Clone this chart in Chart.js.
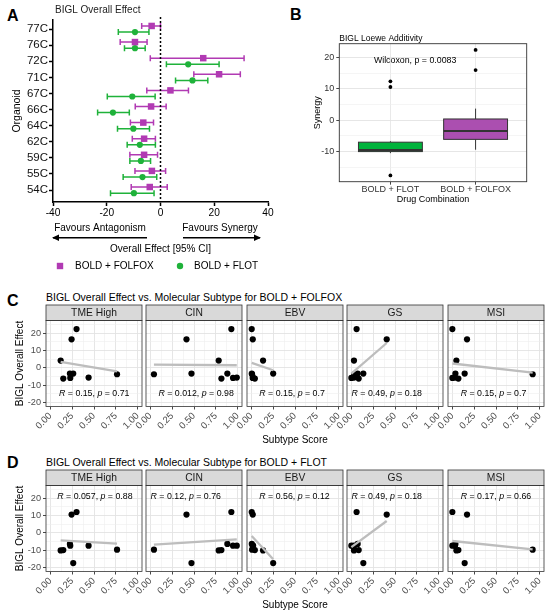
<!DOCTYPE html>
<html><head><meta charset="utf-8">
<script src="https://cdn.jsdelivr.net/npm/chart.js@4.4.1/dist/chart.umd.min.js"></script>
<style>
body{margin:0;background:#fff;}
#wrap{position:relative;width:550px;height:616px;overflow:hidden;font-family:"Liberation Sans",Arial,sans-serif;background:#fff;}
canvas{position:absolute;}
.lbl{position:absolute;font-weight:bold;font-size:16px;color:#000;line-height:1;}
.ttl{position:absolute;font-size:10.5px;color:#000;white-space:nowrap;line-height:1;}
</style></head>
<body><div id="wrap">
<div class="lbl" style="left:7px;top:8px">A</div>
<div class="lbl" style="left:290px;top:7px">B</div>
<div class="lbl" style="left:7px;top:293px">C</div>
<div class="lbl" style="left:7px;top:455px">D</div>
<div class="ttl" style="left:46px;top:292px">BIGL Overall Effect vs. Molecular Subtype for BOLD + FOLFOX</div>
<div class="ttl" style="left:46px;top:457px">BIGL Overall Effect vs. Molecular Subtype for BOLD + FLOT</div>
<canvas id="cA" width="280" height="280" style="left:0;top:0;width:280px;height:280px"></canvas>
<canvas id="cB" width="275" height="205" style="left:275px;top:0;width:275px;height:205px"></canvas>
</div>
<script>
// ---------- Panel A data ----------
const organoids = ["77C","76C","72C","71C","67C","66C","64C","62C","59C","55C","54C"];
const folfoxMean = [-3.3,-9.5,15.9,21.8,3.7,-3.5,-6.4,-6.1,-6.1,-3.2,-4.0];
const folfoxLow  = [-7.0,-15.0,-3.8,12.4,-5.1,-9.4,-11.2,-10.5,-11.4,-9.5,-10.9];
const folfoxHigh = [0.0,-5.0,31.1,29.7,10.4,2.1,-2.6,-1.9,-1.1,1.9,2.5];
const flotMean = [-9.5,-9.5,10.3,11.9,-10.5,-17.7,-10.1,-7.7,-7.3,-6.7,-9.9];
const flotLow  = [-15.7,-13.4,2.2,5.6,-19.8,-23.4,-16.0,-12.4,-11.4,-13.9,-18.6];
const flotHigh = [-4.3,-5.7,21.8,17.6,-2.0,-11.6,-4.1,-1.9,-3.7,-1.4,-2.4];
const effectTicks = [-40,-20,0,20,40];

// ---------- Panel B data ----------
const drugCombos = ["BOLD + FLOT","BOLD + FOLFOX"];
const boxLowWhisker = [-10.5,-9.4];
const boxQ1 = [-10.0,-6.1];
const boxMedian = [-9.5,-3.4];
const boxQ3 = [-7.0,0.4];
const boxHighWhisker = [-6.7,3.7];
const outliersFlot = [12.4,10.6,-17.6];
const outliersFolfox = [22.4,16.0];
const synergyTicks = [-10,0,10,20];
const synergyMinor = [-15,-5,5,15];

// ---------- Panels C/D data ----------
const subtypes = ["TME High","CIN","EBV","GS","MSI"];
const folfoxEffect = [4.2,-6.2,-3.3,-5.8,-3.3,16.4,22.3,-5.6,-3.7];
const flotEffect   = [-10.1,-9.9,-6.4,-7.4,-17.4,10.5,12.0,-7.4,-9.7];
const scoreTME = [0.118,0.148,0.224,0.228,0.262,0.243,0.300,0.438,0.764];
const scoreCIN = [0.783,0.814,0.882,0.947,0.471,0.414,0.928,0.990,0.041];
const scoreEBV = [0.134,0.040,0.005,0.015,0.250,0.016,0.004,0.020,0.008];
const scoreGS  = [0.030,0.084,0.072,0.000,0.137,0.405,0.060,0.030,0.034];
const scoreMSI = [0.046,0.069,0.035,0.000,0.141,0.168,0.000,0.030,0.920];
const fitFolfoxStart = [3.5,1.9,2.9,-3.3,2.5];
const fitFolfoxEnd   = [-2.0,1.5,-1.4,14.3,-2.7];
const fitFlotStart = [-4.3,-6.8,-1.8,-8.2,-4.7];
const fitFlotEnd   = [-6.2,-3.8,-15.2,6.8,-9.5];
const rFolfox = ["0.15","0.012","0.15","0.49","0.15"];
const pFolfox = ["0.71","0.98","0.7","0.18","0.7"];
const rFlot = ["0.057","0.12","0.56","0.49","0.17"];
const pFlot = ["0.88","0.76","0.12","0.18","0.66"];
const scoreTicks = [0,0.25,0.5,0.75,1];
const scoreMinor = [0.125,0.375,0.625,0.875];
const facetTicks = [-20,-10,0,10,20];
const facetMinor = [-15,-5,5,15,25];

Chart.defaults.font.family = '"Liberation Sans", Arial, sans-serif';
Chart.defaults.animation = false;

const FOLFOX_COL = '#B13AB3';
const FLOT_COL = '#1FB23A';

// ================= Panel A =================
const forestPlugin = {
  id: 'forest',
  beforeDatasetsDraw(chart) {
    const {ctx, chartArea: a, scales: {x, y}} = chart;
    ctx.save();
    chart.data.datasets.forEach(ds => {
      ctx.strokeStyle = ds.borderColor; ctx.lineWidth = 1.5;
      ds.data.forEach(p => {
        const yy = y.getPixelForValue(p.y), xl = x.getPixelForValue(p.lo), xh = x.getPixelForValue(p.hi);
        ctx.beginPath();
        ctx.moveTo(xl, yy); ctx.lineTo(xh, yy);
        ctx.moveTo(xl, yy - 3); ctx.lineTo(xl, yy + 3);
        ctx.moveTo(xh, yy - 3); ctx.lineTo(xh, yy + 3);
        ctx.stroke();
      });
    });
    const x0 = x.getPixelForValue(0);
    ctx.setLineDash([2, 2]); ctx.lineWidth = 1.5; ctx.strokeStyle = '#000';
    ctx.beginPath(); ctx.moveTo(x0, a.top - 3); ctx.lineTo(x0, a.bottom); ctx.stroke();
    ctx.restore();
  },
  afterDraw(chart) {
    const {ctx, chartArea: a, scales: {x}} = chart;
    const b = a.bottom;
    ctx.save();
    ctx.fillStyle = '#000'; ctx.strokeStyle = '#000';
    ctx.font = '10px "Liberation Sans", Arial';
    ctx.textAlign = 'center'; ctx.textBaseline = 'middle';
    ctx.fillText('Favours Antagonism', 100, b + 26);
    ctx.fillText('Favours Synergy', 220, b + 26);
    ctx.fillText('Overall Effect [95% CI]', x.getPixelForValue(0), b + 47.5);
    const arrow = (x1, x2, yy) => {
      ctx.lineWidth = 1.5;
      ctx.beginPath(); ctx.moveTo(x1, yy); ctx.lineTo(x2, yy); ctx.stroke();
      const d = Math.sign(x2 - x1);
      ctx.beginPath(); ctx.moveTo(x2 + d * 1, yy); ctx.lineTo(x2 - d * 6, yy - 3.2); ctx.lineTo(x2 - d * 6, yy + 3.2); ctx.closePath(); ctx.fill();
    };
    arrow(147, 53, b + 35.7);
    arrow(183, 260, b + 35.7);
    // legend
    const items = [{mx: 60, tx: 75}, {mx: 180, tx: 194}];
    ctx.textAlign = 'left';
    chart.data.datasets.forEach((ds, i) => {
      const it = items[i], yy = b + 64;
      ctx.fillStyle = ds.backgroundColor;
      if (ds.pointStyle === 'rect') ctx.fillRect(it.mx - 3.2, yy - 3.2, 6.4, 6.4);
      else { ctx.beginPath(); ctx.arc(it.mx, yy, 3.2, 0, Math.PI * 2); ctx.fill(); }
      ctx.fillStyle = '#000';
      ctx.fillText(ds.label, it.tx, yy);
    });
    ctx.restore();
  }
};

new Chart(document.getElementById('cA'), {
  type: 'scatter',
  data: {
    datasets: [
      {label: 'BOLD + FOLFOX', pointStyle: 'rect', pointRadius: 4.6, backgroundColor: FOLFOX_COL, borderColor: FOLFOX_COL, borderWidth: 0,
       data: organoids.map((o, i) => ({x: folfoxMean[i], y: i - 0.19, lo: folfoxLow[i], hi: folfoxHigh[i]}))},
      {label: 'BOLD + FLOT', pointStyle: 'circle', pointRadius: 3.1, backgroundColor: FLOT_COL, borderColor: FLOT_COL, borderWidth: 0,
       data: organoids.map((o, i) => ({x: flotMean[i], y: i + 0.19, lo: flotLow[i], hi: flotHigh[i]}))}
    ]
  },
  options: {
    responsive: false, animation: false,
    layout: {padding: {top: 20, right: 12, left: 0, bottom: 0}},
    plugins: {legend: {display: false}, tooltip: {enabled: false}},
    scales: {
      x: {type: 'linear', min: -40, max: 40,
        afterBuildTicks: s => { s.ticks = effectTicks.map(v => ({value: v})); },
        afterFit: s => { s.height = 78; },
        ticks: {color: '#000', font: {size: 10.2}, padding: 1, maxRotation: 0},
        grid: {drawOnChartArea: false, drawTicks: true, tickLength: 4, tickColor: '#000', tickWidth: 1.5},
        border: {display: true, color: '#000', width: 1.5}},
      y: {type: 'linear', reverse: true, min: -0.56, max: 10.74,
        afterBuildTicks: s => { s.ticks = organoids.map((o, i) => ({value: i})); },
        afterFit: s => { s.width = 53; },
        ticks: {color: '#111', font: {size: 11.5}, padding: 1, autoSkip: false, callback: v => organoids[v]},
        grid: {drawOnChartArea: false, drawTicks: true, tickLength: 4, tickColor: '#000', tickWidth: 1.5},
        border: {display: true, color: '#000', width: 1.5},
        title: {display: true, text: 'Organoid', color: '#000', font: {size: 10.5}, padding: {top: 10.5, bottom: 0}}}
    }
  },
  plugins: [forestPlugin, {
    id: 'aTitle',
    afterDraw(chart) {
      const ctx = chart.ctx; ctx.save();
      ctx.font = '10px "Liberation Sans", Arial'; ctx.fillStyle = '#222'; ctx.textAlign = 'left'; ctx.textBaseline = 'middle';
      ctx.fillText('BIGL Overall Effect', 55, 10);
      ctx.restore();
    }
  }]
});

// ================= Panel B =================
const boxPlugin = {
  id: 'boxplot',
  beforeDatasetsDraw(chart) {
    const {ctx, scales: {x, y}} = chart;
    const fills = ['#00B33C', '#AB4FB0'];
    ctx.save();
    drugCombos.forEach((c, i) => {
      const cx = x.getPixelForValue(i + 1);
      const hw = x.getPixelForValue(i + 1.375) - cx;
      ctx.strokeStyle = '#333'; ctx.lineWidth = 1;
      ctx.beginPath();
      ctx.moveTo(cx, y.getPixelForValue(boxHighWhisker[i])); ctx.lineTo(cx, y.getPixelForValue(boxQ3[i]));
      ctx.moveTo(cx, y.getPixelForValue(boxQ1[i])); ctx.lineTo(cx, y.getPixelForValue(boxLowWhisker[i]));
      ctx.stroke();
      const top = y.getPixelForValue(boxQ3[i]), bot = y.getPixelForValue(boxQ1[i]);
      ctx.fillStyle = fills[i];
      ctx.fillRect(cx - hw, top, 2 * hw, bot - top);
      ctx.strokeRect(cx - hw, top, 2 * hw, bot - top);
      ctx.lineWidth = 2;
      const m = y.getPixelForValue(boxMedian[i]);
      ctx.beginPath(); ctx.moveTo(cx - hw, m); ctx.lineTo(cx + hw, m); ctx.stroke();
    });
    ctx.restore();
  },
  afterDraw(chart) {
    const {ctx, chartArea: a, scales: {x, y}} = chart;
    ctx.save();
    ctx.strokeStyle = '#333'; ctx.lineWidth = 0.9;
    ctx.strokeRect(a.left, a.top, a.right - a.left, a.bottom - a.top);
    ctx.fillStyle = '#000'; ctx.textBaseline = 'middle';
    ctx.font = '8.5px "Liberation Sans", Arial'; ctx.textAlign = 'left';
    ctx.fillText('BIGL Loewe Additivity', a.left, a.top - 5.5);
    ctx.font = '8.8px "Liberation Sans", Arial'; ctx.textAlign = 'center';
    ctx.fillText('Wilcoxon, p = 0.0083', x.getPixelForValue(1.29), y.getPixelForValue(19));
    ctx.restore();
  }
};

new Chart(document.getElementById('cB'), {
  type: 'scatter',
  data: {datasets: [{label: 'outliers', pointRadius: 1.9, backgroundColor: '#000', borderWidth: 0,
    data: outliersFlot.map(v => ({x: 1, y: v})).concat(outliersFolfox.map(v => ({x: 2, y: v})))}]},
  options: {
    responsive: false, animation: false,
    layout: {padding: {top: 43.7, right: 23.3, left: 0, bottom: 0}},
    plugins: {legend: {display: false}, tooltip: {enabled: false}},
    scales: {
      x: {type: 'linear', min: 0.4, max: 2.6,
        afterBuildTicks: s => { s.ticks = drugCombos.map((c, i) => ({value: i + 1})); },
        afterFit: s => { s.height = 23.3; },
        ticks: {color: '#333', font: {size: 9}, padding: -1, maxRotation: 0, autoSkip: false, callback: v => drugCombos[Math.round(v) - 1]},
        grid: {color: '#e6e6e6', lineWidth: 0.9, tickLength: 3, tickColor: '#333'},
        border: {display: false},
        title: {display: true, text: 'Drug Combination', color: '#000', font: {size: 9}, padding: {top: 0, bottom: 0.4}}},
      y: {min: -19.6, max: 24.4,
        afterBuildTicks: s => { s.ticks = synergyMinor.concat(synergyTicks).sort((p, q) => p - q).map(v => ({value: v})); },
        afterFit: s => { s.width = 64.3; },
        ticks: {color: '#333', font: {size: 9}, padding: 2, autoSkip: false, callback: v => synergyTicks.includes(v) ? String(v) : ''},
        grid: {color: c => synergyTicks.includes(c.tick && c.tick.value) ? '#e3e3e3' : '#efefef',
               lineWidth: c => synergyTicks.includes(c.tick && c.tick.value) ? 0.9 : 0.6,
               tickLength: 3, tickColor: c => synergyTicks.includes(c.tick && c.tick.value) ? '#333' : 'rgba(0,0,0,0)'},
        border: {display: false},
        title: {display: true, text: 'Synergy', color: '#000', font: {size: 9}, padding: {top: 37.3, bottom: 0}}}
    }
  },
  plugins: [boxPlugin]
});

// ================= Panels C & D =================
const wrap = document.getElementById('wrap');
const panelLefts = [46, 146, 247, 347, 448];
const panelWidth = 96;
const scoresBySubtype = [scoreTME, scoreCIN, scoreEBV, scoreGS, scoreMSI];
const labelXFolfox = [0.099, 0.093, 0.091, 0.002, 0.096];
const labelXFlot = [0.079, 0.002, 0.091, 0.002, 0.096];
const facetRows = [
  {top: 302, h: 146, effects: folfoxEffect, fs: fitFolfoxStart, fe: fitFolfoxEnd, r: rFolfox, p: pFolfox, lx: labelXFolfox, ly: -14.6, tpb: 2},
  {top: 467, h: 149, effects: flotEffect, fs: fitFlotStart, fe: fitFlotEnd, r: rFlot, p: pFlot, lx: labelXFlot, ly: 20.6, tpb: 5}
];

const facetPlugin = {
  id: 'facet',
  afterDraw(chart, args, o) {
    const {ctx, chartArea: a, scales: {x, y}} = chart;
    ctx.save();
    const sh = 15.5;
    ctx.fillStyle = '#d9d9d9'; ctx.fillRect(a.left, a.top - sh, a.right - a.left, sh);
    ctx.strokeStyle = '#333'; ctx.lineWidth = 0.8;
    ctx.strokeRect(a.left, a.top - sh, a.right - a.left, sh);
    ctx.strokeRect(a.left, a.top, a.right - a.left, a.bottom - a.top);
    ctx.fillStyle = '#1a1a1a'; ctx.font = '10.3px "Liberation Sans", Arial';
    ctx.textAlign = 'center'; ctx.textBaseline = 'middle';
    ctx.fillText(o.strip, (a.left + a.right) / 2, a.top - sh / 2 + 0.5);
    // correlation label
    let px = x.getPixelForValue(o.lx); const py = y.getPixelForValue(o.ly);
    ctx.textAlign = 'left'; ctx.fillStyle = '#000';
    const parts = [['R', true], [' = ' + o.r + ', ', false], ['p', true], [' = ' + o.p, false]];
    parts.forEach(([t, it]) => {
      ctx.font = (it ? 'italic ' : '') + '8.8px "Liberation Sans", Arial';
      ctx.fillText(t, px, py);
      px += ctx.measureText(t).width;
    });
    ctx.restore();
  }
};

const isIn = (arr, c) => c.tick ? arr.some(v => Math.abs(v - c.tick.value) < 1e-6) : false;

function makeFacet(ri, i) {
  const row = facetRows[ri];
  const first = i === 0;
  const padL = first ? 0 : 24, yW = first ? 46 : 0, padR = 6;
  const left = panelLefts[i] - padL - yW;
  const w = padL + yW + panelWidth + padR;
  const cv = document.createElement('canvas');
  cv.width = w; cv.height = row.h;
  cv.style.left = left + 'px'; cv.style.top = row.top + 'px';
  cv.style.width = w + 'px'; cv.style.height = row.h + 'px';
  wrap.appendChild(cv);
  const sc = scoresBySubtype[i];
  const xmin = Math.min(...sc), xmax = Math.max(...sc);
  new Chart(cv, {
    type: 'scatter',
    data: {datasets: [
      {label: 'fit', data: [{x: xmin, y: row.fs[i]}, {x: xmax, y: row.fe[i]}], showLine: true, borderColor: '#bdbdbd', borderWidth: 2.3, pointRadius: 0, order: 0},
      {label: 'organoids', data: sc.map((s, k) => ({x: s, y: row.effects[k]})), pointRadius: 3.1, backgroundColor: '#000', borderWidth: 0, order: 1}
    ]},
    options: {
      responsive: false, animation: false,
      layout: {padding: {top: 18.5, right: padR, left: padL, bottom: 0}},
      plugins: {legend: {display: false}, tooltip: {enabled: false},
        facet: {strip: subtypes[i], r: row.r[i], p: row.p[i], lx: row.lx[i], ly: row.ly}},
      scales: {
        x: {type: 'linear', min: -0.05, max: 1.05,
          afterBuildTicks: s => { s.ticks = scoreTicks.concat(scoreMinor).sort((p, q) => p - q).map(v => ({value: v})); },
          afterFit: s => { s.height = row.h - 104.5; },
          ticks: {color: '#4d4d4d', font: {size: 9.5}, padding: 1, minRotation: 45, maxRotation: 45, autoSkip: false,
            callback: v => scoreTicks.some(t => Math.abs(t - v) < 1e-6) ? Number(v).toFixed(2) : ''},
          grid: {color: c => isIn(scoreTicks, c) ? '#e3e3e3' : '#efefef', lineWidth: c => isIn(scoreTicks, c) ? 0.9 : 0.6,
                 tickLength: 3, tickColor: c => isIn(scoreTicks, c) ? '#333' : 'rgba(0,0,0,0)'},
          border: {display: false},
          title: {display: i === 2, text: 'Subtype Score', color: '#000', font: {size: 10}, padding: {top: 0, bottom: row.tpb}}},
        y: {min: -22.25, max: 27.25,
          afterBuildTicks: s => { s.ticks = facetTicks.concat(facetMinor).sort((p, q) => p - q).map(v => ({value: v})); },
          afterFit: s => { s.width = yW; },
          ticks: {display: first, color: '#4d4d4d', font: {size: 9.2}, padding: 2, autoSkip: false,
            callback: v => facetTicks.includes(v) ? String(v) : ''},
          grid: {color: c => isIn(facetTicks, c) ? '#e3e3e3' : '#efefef', lineWidth: c => isIn(facetTicks, c) ? 0.9 : 0.6,
                 drawTicks: first, tickLength: 3, tickColor: c => isIn(facetTicks, c) ? '#333' : 'rgba(0,0,0,0)'},
          border: {display: false},
          title: {display: first, text: 'BIGL Overall Effect', color: '#000', font: {size: 10}, padding: {top: 14, bottom: 0}}}
      }
    },
    plugins: [facetPlugin]
  });
}
for (let r = 0; r < 2; r++) for (let i = 0; i < 5; i++) makeFacet(r, i);
</script>
</body></html>
